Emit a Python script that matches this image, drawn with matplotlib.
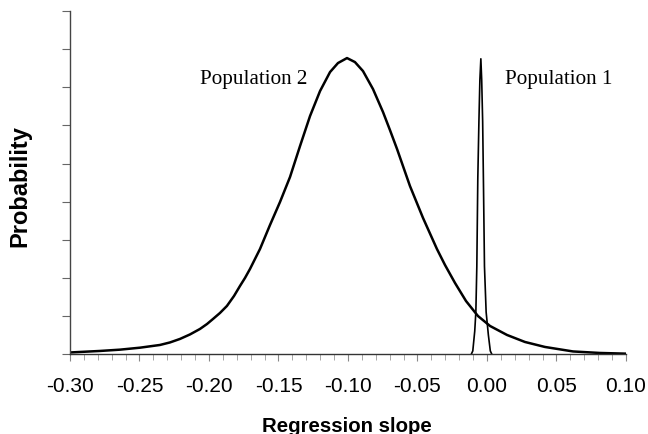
import matplotlib
matplotlib.use("Agg")
import matplotlib.pyplot as plt
from matplotlib.ticker import MultipleLocator

# Population 2 (broad distribution)
pop2_x = [-0.3000, -0.2784, -0.2640, -0.2496, -0.2353, -0.2281, -0.2209, -0.2137,
          -0.2065, -0.2014, -0.1971, -0.1921, -0.1871, -0.1820, -0.1777, -0.1741,
          -0.1705, -0.1633, -0.1561, -0.1489, -0.1417, -0.1345, -0.1273, -0.1201,
          -0.1129, -0.1072, -0.1007, -0.0950, -0.0892, -0.0820, -0.0748, -0.0698,
          -0.0647, -0.0554, -0.0460, -0.0360, -0.0302, -0.0230, -0.0151, -0.0065,
          0.0022, 0.0144, 0.0273, 0.0417, 0.0619, 0.0813, 0.1000]
pop2_y = [0.039, 0.079, 0.113, 0.165, 0.236, 0.302, 0.394, 0.512,
          0.656, 0.787, 0.919, 1.076, 1.260, 1.522, 1.785, 1.995,
          2.231, 2.756, 3.386, 3.990, 4.646, 5.459, 6.247, 6.903,
          7.402, 7.638, 7.769, 7.664, 7.428, 6.955, 6.352, 5.879,
          5.381, 4.409, 3.570, 2.756, 2.336, 1.864, 1.391, 0.997,
          0.735, 0.499, 0.315, 0.184, 0.066, 0.026, 0.008]

# Population 1 (narrow spike)
pop1_x = [-0.0112, -0.0102, -0.0088, -0.0080, -0.0073, -0.0066, -0.0058, -0.0051,
          -0.0044, -0.0038, -0.0031, -0.0025, -0.0018, -0.0006, 0.0010, 0.0024, 0.0034]
pop1_y = [0.0, 0.08, 0.6, 1.1, 2.3, 4.6, 6.1, 7.2,
          7.75, 7.2, 6.1, 4.4, 2.3, 1.1, 0.5, 0.08, 0.0]

xticks = [-0.30, -0.25, -0.20, -0.15, -0.10, -0.05, 0.00, 0.05, 0.10]
xticklabels = ["-0.30", "-0.25", "-0.20", "-0.15", "-0.10", "-0.05", "0.00", "0.05", "0.10"]

fig = plt.figure(figsize=(6.48, 4.35), dpi=100)
ax = fig.add_axes([0.108, 0.184, 0.858, 0.788])

ax.plot(pop2_x, pop2_y, color="black", lw=1.8, solid_joinstyle="round")
ax.plot(pop1_x, pop1_y, color="black", lw=1.2, solid_joinstyle="round")

ax.set_xlim(-0.30, 0.10)
ax.set_ylim(0, 9)
ax.set_xticks(xticks)
ax.set_xticklabels(xticklabels, fontfamily="Liberation Sans", fontsize=15)
ax.xaxis.set_minor_locator(MultipleLocator(0.01))
ax.yaxis.set_major_locator(MultipleLocator(1))
ax.set_yticklabels([])
ax.tick_params(axis="x", which="major", direction="out", length=5, width=0.8,
               color="#888888", pad=11)
ax.tick_params(axis="x", which="minor", direction="out", length=4, width=0.6,
               color="#999999")
ax.tick_params(axis="y", which="major", direction="out", length=6, width=0.8,
               color="#666666")

for s in ["top", "right"]:
    ax.spines[s].set_visible(False)
ax.spines["left"].set_color("#444444")
ax.spines["left"].set_linewidth(1.0)
ax.spines["bottom"].set_color("#333333")
ax.spines["bottom"].set_linewidth(1.0)

fig.text(347 / 648, 1 - 427 / 435, "Regression slope", fontfamily="Liberation Sans",
         fontweight="bold", fontsize=14.7, ha="center", va="center")
fig.text(20 / 648, 1 - 186 / 435, "Probability", fontfamily="Liberation Sans",
         fontweight="bold", fontsize=17, ha="center", va="center", rotation=90)

ax.text(-0.168, 7.22, "Population 2", fontfamily="Liberation Serif", fontsize=15.2,
        ha="center", va="center")
ax.text(0.052, 7.22, "Population 1", fontfamily="Liberation Serif", fontsize=15.2,
        ha="center", va="center")

fig.savefig("out.png", dpi=100)
